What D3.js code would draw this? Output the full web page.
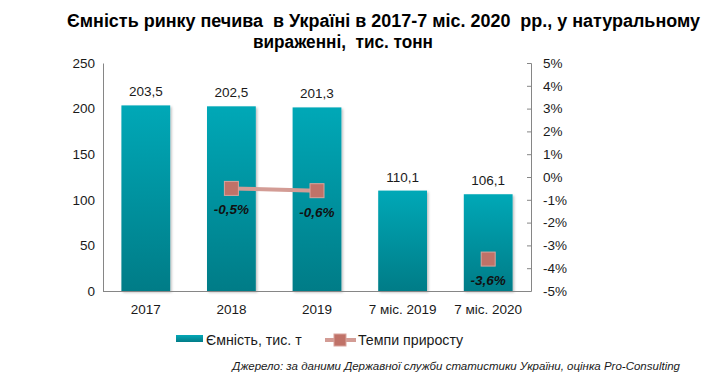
<!DOCTYPE html>
<html><head><meta charset="utf-8">
<script src="https://cdn.jsdelivr.net/npm/d3@7"></script>
<style>body{margin:0;background:#fff}svg{display:block;font-family:Arial,"Liberation Sans",sans-serif}.pre{white-space:pre}</style>
</head><body><svg id="c" width="718" height="383"></svg>
<script>
const categories = ["2017","2018","2019","7 міс. 2019","7 міс. 2020"];
const capacity = [203.5,202.5,201.3,110.1,106.1];
const capacityLabels = ["203,5","202,5","201,3","110,1","106,1"];
const growth = [null,-0.5,-0.6,null,-3.6];
const growthLabels = [null,"-0,5%","-0,6%",null,"-3,6%"];
const leftTicks = [0,50,100,150,200,250];
const rightTicks = [-5,-4,-3,-2,-1,0,1,2,3,4,5];
const titleLines = ["Ємність ринку печива  в Україні в 2017-7 міс. 2020  рр., у натуральному","вираженні,  тис. тонн"];
const legendNames = ["Ємність, тис. т","Темпи приросту"];
const sourceText = "Джерело: за даними Державної служби статистики України, оцінка Pro-Consulting";

const svg = d3.select("#c");
const L=103, R=531, T=63, B=291;
const x = d3.scaleBand().domain(categories).range([L,R]).paddingInner(0.43).paddingOuter(0.215);
const y = d3.scaleLinear().domain([0,250]).range([B,T]);
const y2 = d3.scaleLinear().domain([-5,5]).range([B,T]);

const defs = svg.append("defs");
const g = defs.append("linearGradient").attr("id","bg").attr("x1",0).attr("y1",0).attr("x2",0).attr("y2",1);
g.append("stop").attr("offset","0%").attr("stop-color","#04a8b7");
g.append("stop").attr("offset","100%").attr("stop-color","#027c87");
const f = defs.append("filter").attr("id","sh").attr("x","-20%").attr("y","-20%").attr("width","140%").attr("height","140%");
f.append("feDropShadow").attr("dx",1.5).attr("dy",1.5).attr("stdDeviation",1.2).attr("flood-color","#000").attr("flood-opacity",0.25);

// title
svg.append("text").attr("class","pre").attr("x",67).attr("y",27).attr("textLength",633).attr("lengthAdjust","spacingAndGlyphs").attr("font-weight","bold").attr("font-size",17.5).attr("fill","#000").text(titleLines[0]);
svg.append("text").attr("class","pre").attr("x",253).attr("y",48).attr("textLength",180).attr("lengthAdjust","spacingAndGlyphs").attr("font-weight","bold").attr("font-size",17.5).attr("fill","#000").text(titleLines[1]);

// bars
svg.selectAll("rect.bar").data(categories).join("rect").attr("class","bar")
  .attr("x",d=>x(d)).attr("width",x.bandwidth())
  .attr("y",(d,i)=>y(capacity[i])).attr("height",(d,i)=>B-y(capacity[i]))
  .attr("fill","url(#bg)").attr("filter","url(#sh)");
svg.selectAll("text.bl").data(categories).join("text").attr("class","bl")
  .attr("x",d=>x(d)+x.bandwidth()/2).attr("y",(d,i)=>y(capacity[i])-9)
  .attr("text-anchor","middle").attr("font-size",13.5).attr("fill","#1a1a1a").text((d,i)=>capacityLabels[i]);

// axes
const axL = svg.append("g").attr("transform",`translate(${L},0)`).call(d3.axisLeft(y).tickValues(leftTicks).tickSize(0).tickPadding(8));
const axR = svg.append("g").attr("transform",`translate(${R},0)`).call(d3.axisRight(y2).tickValues(rightTicks).tickSize(-4).tickPadding(12).tickFormat(d=>d+"%"));
[axL,axR].forEach(a=>{a.select(".domain").attr("stroke","#868686");a.selectAll(".tick line").attr("stroke","#868686");a.selectAll("text").attr("font-size",13.5).attr("fill","#1a1a1a").attr("font-family","Arial");});
svg.append("line").attr("x1",L).attr("x2",R).attr("y1",B+0.5).attr("y2",B+0.5).attr("stroke","#868686");
const axB = svg.append("g").attr("transform",`translate(0,${B})`).call(d3.axisBottom(x).tickSize(0).tickPadding(13));
axB.select(".domain").remove();
axB.selectAll("text").attr("font-size",13.5).attr("fill","#1a1a1a").attr("font-family","Arial");

// growth line
const pts = categories.map((c,i)=>({c,v:growth[i],l:growthLabels[i]}));
const line = d3.line().defined(d=>d.v!==null).x(d=>x(d.c)+x.bandwidth()/2).y(d=>y2(d.v));
svg.append("path").datum(pts).attr("d",line).attr("fill","none").attr("stroke","#d39c95").attr("stroke-width",4);
const valid = pts.filter(d=>d.v!==null);
svg.selectAll("rect.mk").data(valid).join("rect").attr("class","mk")
  .attr("x",d=>x(d.c)+x.bandwidth()/2-7).attr("y",d=>y2(d.v)-7).attr("width",14).attr("height",14)
  .attr("fill","#c07268").attr("stroke","#d9a49d").attr("stroke-width",1);
svg.selectAll("text.gl").data(valid).join("text").attr("class","gl")
  .attr("x",d=>x(d.c)+x.bandwidth()/2).attr("y",d=>y2(d.v)+26)
  .attr("text-anchor","middle").attr("font-size",13.5).attr("font-weight","bold").attr("font-style","italic").attr("fill","#111").text(d=>d.l);

// legend
svg.append("rect").attr("x",176).attr("y",335).attr("width",27).attr("height",7).attr("fill","url(#bg)");
svg.append("text").attr("x",206).attr("y",345).attr("font-size",14.2).attr("fill","#1a1a1a").text(legendNames[0]);
svg.append("line").attr("x1",325).attr("x2",356).attr("y1",340).attr("y2",340).attr("stroke","#d39c95").attr("stroke-width",4);
svg.append("rect").attr("x",334).attr("y",334).attr("width",12).attr("height",12).attr("fill","#c07268").attr("stroke","#d9a49d");
svg.append("text").attr("x",358).attr("y",345).attr("font-size",14.2).attr("fill","#1a1a1a").text(legendNames[1]);

// source
svg.append("text").attr("x",680).attr("y",370).attr("text-anchor","end").attr("font-size",11.5).attr("font-style","italic").attr("fill","#1a1a1a").text(sourceText);
</script></body></html>
